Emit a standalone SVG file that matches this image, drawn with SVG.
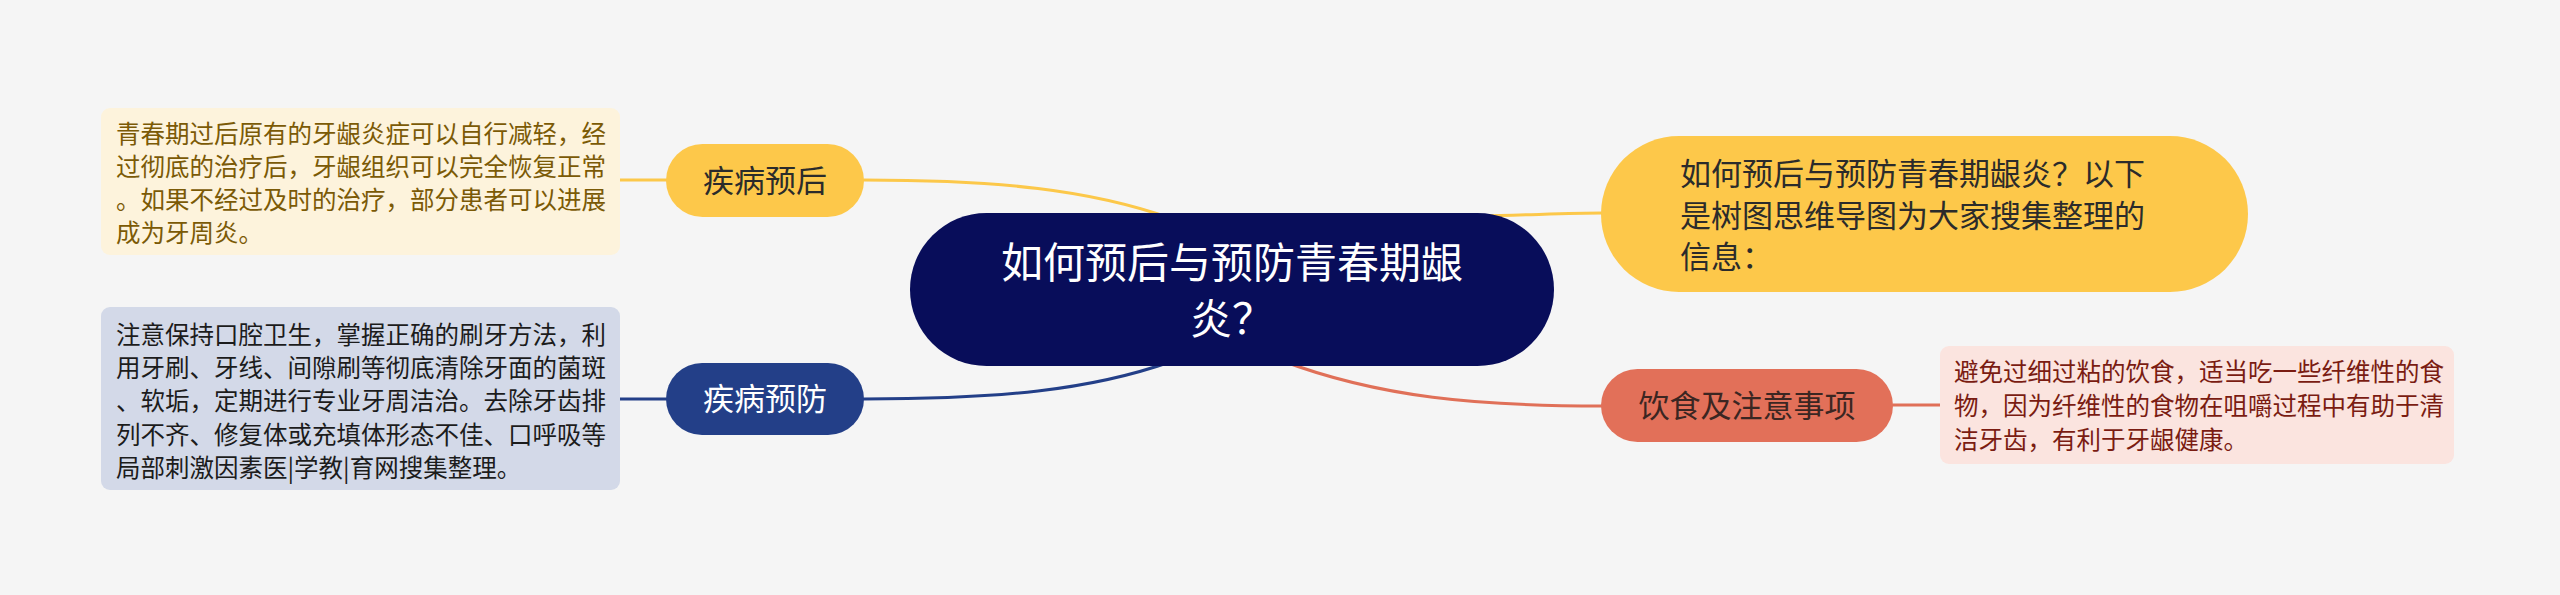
<svg xmlns="http://www.w3.org/2000/svg" width="2560" height="595" viewBox="0 0 2560 595">
<style>
text{font-family:"Noto Sans CJK SC","Noto Sans",sans-serif;}
.c{fill:none;stroke-width:3;stroke-linecap:round}
.y{stroke:#fcc84a}.b{stroke:#233f88}.r{stroke:#e07058}
.t1{font-size:31px;fill:#2b2b2b}
.n{font-size:24.5px}
</style>
<rect width="2560" height="595" fill="#f5f5f5"/>
<g id="connectors">
<path class="c y" d="M864,180 C1000,180 1090,190 1170,218"/>
<path class="c y" d="M620,180 L666,180"/>
<path class="c b" d="M864,399 C1000,399 1090,390 1170,362"/>
<path class="c b" d="M620,399 L666,399"/>
<path class="c y" d="M1480,216 C1530,215 1570,213 1602,213"/>
<path class="c r" d="M1280,360 C1380,398 1480,406 1602,406"/>
<path class="c r" d="M1893,405 L1940,405"/>
</g>
<g id="center">
<rect x="910" y="213" width="644" height="153" rx="76.5" fill="#080d5a"/>
<text x="1232" y="278" font-size="42" fill="#ffffff" text-anchor="middle">如何预后与预防青春期龈</text>
<text x="1232" y="334" font-size="42" fill="#ffffff" text-anchor="middle">炎？</text>
</g>
<g id="n-yuhou">
<rect x="666" y="144" width="198" height="73" rx="36.5" fill="#fdc84a"/>
<text class="t1" x="765" y="192" text-anchor="middle">疾病预后</text>
</g>
<g id="note-yuhou">
<rect x="101" y="108" width="519" height="147" rx="9" fill="#fdf3dc"/>
<g class="n" fill="#7b5a06">
<text x="116" y="143">青春期过后原有的牙龈炎症可以自行减轻，经</text>
<text x="116" y="176">过彻底的治疗后，牙龈组织可以完全恢复正常</text>
<text x="116" y="209">。如果不经过及时的治疗，部分患者可以进展</text>
<text x="116" y="242">成为牙周炎。</text>
</g>
</g>
<g id="n-yufang">
<rect x="666" y="363" width="198" height="72" rx="36" fill="#233f88"/>
<text class="t1" x="765" y="410" text-anchor="middle" fill="#ffffff" style="fill:#ffffff">疾病预防</text>
</g>
<g id="note-yufang">
<rect x="101" y="307" width="519" height="183" rx="9" fill="#d3d9e8"/>
<g class="n" fill="#1c1c1c">
<text x="116" y="344">注意保持口腔卫生，掌握正确的刷牙方法，利</text>
<text x="116" y="377">用牙刷、牙线、间隙刷等彻底清除牙面的菌斑</text>
<text x="116" y="410">、软垢，定期进行专业牙周洁治。去除牙齿排</text>
<text x="116" y="444">列不齐、修复体或充填体形态不佳、口呼吸等</text>
<text x="116" y="477">局部刺激因素医|学教|育网搜集整理。</text>
</g>
</g>
<g id="n-info">
<rect x="1601" y="136" width="647" height="156" rx="78" fill="#fdc84a"/>
<text class="t1" x="1680" y="185">如何预后与预防青春期龈炎？以下</text>
<text class="t1" x="1680" y="226.5">是树图思维导图为大家搜集整理的</text>
<text class="t1" x="1680" y="268">信息：</text>
</g>
<g id="n-diet">
<rect x="1601" y="369" width="292" height="73" rx="36.5" fill="#e27059"/>
<text class="t1" x="1747" y="417" text-anchor="middle" style="fill:#3b2622">饮食及注意事项</text>
</g>
<g id="note-diet">
<rect x="1940" y="346" width="514" height="118" rx="9" fill="#fbe4df"/>
<g class="n" fill="#7a1c12">
<text x="1954" y="381">避免过细过粘的饮食，适当吃一些纤维性的食</text>
<text x="1954" y="415">物，因为纤维性的食物在咀嚼过程中有助于清</text>
<text x="1954" y="449">洁牙齿，有利于牙龈健康。</text>
</g>
</g>
</svg>
